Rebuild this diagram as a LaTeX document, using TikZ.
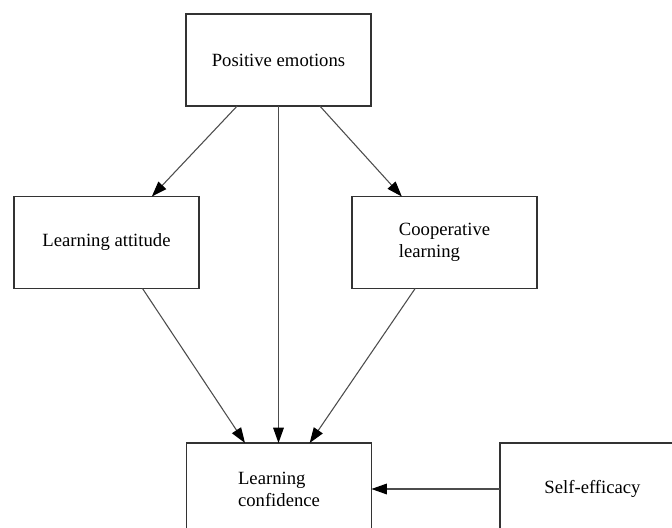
\documentclass[tikz,border=0pt]{standalone}
\usepackage{fontspec}
\setmainfont{Liberation Serif}
\usetikzlibrary{arrows.meta}
\begin{document}
\begin{tikzpicture}[x=0.75pt,y=-0.75pt,
    box/.style={draw=black!80,line width=1.1pt,fill=white,minimum width=138.75pt,
        minimum height=69pt,inner sep=2pt,outer sep=0pt,align=left,
        font=\fontsize{14}{16.5}\selectfont},
    link/.style={draw=black!70,line width=0.8pt,
        -{Triangle[length=11.5pt,width=8pt,color=black]}}]
    \clip (0,0) rectangle (672,528);
    \fill[white] (0,0) rectangle (672,528);
    \node[box] (emo) at (278.5,60) {Positive emotions};
    \node[box] (att) at (106.5,242.5) {Learning attitude};
    \node[box] (coop) at (444.5,242.5) {Cooperative\\learning};
    \node[box] (conf) at (279,489) {Learning\\confidence};
    \node[box] (self) at (592.5,489) {Self-efficacy};
    \draw[link] ([xshift=-31pt]emo.south) -- ([xshift=34pt]att.north);
    \draw[link] ([xshift=31pt]emo.south) -- ([xshift=-32pt]coop.north);
    \draw[link] (emo.south) -- (emo.south |- conf.north);
    \draw[link] ([xshift=27pt]att.south) -- ([xshift=-25.5pt]conf.north);
    \draw[link] ([xshift=-22pt]coop.south) -- ([xshift=23pt]conf.north);
    \draw[link] (self.west) -- (conf.east);
\end{tikzpicture}
\end{document}
